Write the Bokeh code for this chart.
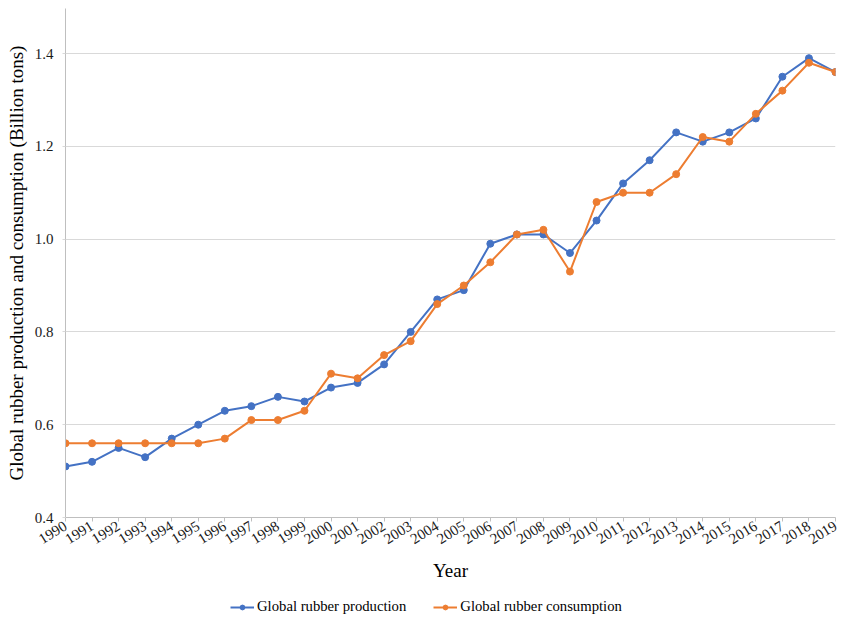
import math
from bokeh.plotting import figure
from bokeh.layouts import column
from bokeh.models import (Range1d, FixedTicker, Legend, LegendItem, ColumnDataSource)
from bokeh.embed import file_html
from bokeh.resources import INLINE

years = list(range(1990, 2020))
production = [0.51, 0.52, 0.55, 0.53, 0.57, 0.60, 0.63, 0.64, 0.66, 0.65,
              0.68, 0.69, 0.73, 0.80, 0.87, 0.89, 0.99, 1.01, 1.01, 0.97,
              1.04, 1.12, 1.17, 1.23, 1.21, 1.23, 1.26, 1.35, 1.39, 1.36]
consumption = [0.56, 0.56, 0.56, 0.56, 0.56, 0.56, 0.57, 0.61, 0.61, 0.63,
               0.71, 0.70, 0.75, 0.78, 0.86, 0.90, 0.95, 1.01, 1.02, 0.93,
               1.08, 1.10, 1.10, 1.14, 1.22, 1.21, 1.27, 1.32, 1.38, 1.36]
y_ticks = [0.4, 0.6, 0.8, 1.0, 1.2, 1.4]
y_tick_labels = ["0.4", "0.6", "0.8", "1.0", "1.2", "1.4"]
series_names = ["Global rubber production", "Global rubber consumption"]
x_title = "Year"
y_title = "Global rubber production and consumption (Billion tons)"

BLUE = "#4472C4"
ORANGE = "#ED7D31"
FONT = "Liberation Serif"
TXT = "#1a1a1a"

main = figure(width=850, height=590, output_backend="svg", toolbar_location=None,
              x_range=Range1d(1990, 2019), y_range=Range1d(0.4, 1.497),
              min_border_left=65, min_border_right=15, min_border_top=8,
              min_border_bottom=73)
main.outline_line_color = None
main.background_fill_color = "white"

src = ColumnDataSource(dict(x=years, prod=production, cons=consumption))
main.line("x", "prod", source=src, line_color=BLUE, line_width=2)
main.scatter("x", "prod", source=src, size=7, fill_color=BLUE, line_color=BLUE)
main.line("x", "cons", source=src, line_color=ORANGE, line_width=2)
main.scatter("x", "cons", source=src, size=7, fill_color=ORANGE, line_color=ORANGE)

# grids
main.xgrid.grid_line_color = None
main.ygrid.ticker = FixedTicker(ticks=y_ticks)
main.ygrid.grid_line_color = "#d9d9d9"
main.ygrid.grid_line_width = 1

# y axis
main.yaxis.ticker = FixedTicker(ticks=y_ticks)
main.yaxis.major_label_overrides = {t: s for t, s in zip(y_ticks, y_tick_labels)}
main.yaxis.axis_line_color = "#bfbfbf"
main.yaxis.major_tick_line_color = "#d9d9d9"
main.yaxis.major_tick_out = 3
main.yaxis.major_tick_in = 0
main.yaxis.minor_tick_line_color = None
main.yaxis.major_label_standoff = 9
main.yaxis.major_label_text_font = FONT
main.yaxis.major_label_text_font_size = "15px"
main.yaxis.major_label_text_color = TXT
main.yaxis.axis_label = y_title
main.yaxis.axis_label_text_font = FONT
main.yaxis.axis_label_text_font_size = "19px"
main.yaxis.axis_label_text_font_style = "normal"
main.yaxis.axis_label_text_color = "#000000"
main.yaxis.axis_label_standoff = 5

# x axis
main.xaxis.ticker = FixedTicker(ticks=years)
main.xaxis.major_label_overrides = {y: str(y) for y in years}
main.xaxis.axis_line_color = "#bfbfbf"
main.xaxis.major_tick_line_color = "#bfbfbf"
main.xaxis.major_tick_out = 4
main.xaxis.major_tick_in = 0
main.xaxis.minor_tick_line_color = None
main.xaxis.major_label_orientation = 0.55
main.xaxis.major_label_standoff = 3
main.xaxis.major_label_text_font = FONT
main.xaxis.major_label_text_font_size = "15px"
main.xaxis.major_label_text_color = TXT
main.xaxis.axis_label = x_title
main.xaxis.axis_label_text_font = FONT
main.xaxis.axis_label_text_font_size = "19px"
main.xaxis.axis_label_text_font_style = "normal"
main.xaxis.axis_label_text_color = "#000000"
main.xaxis.axis_label_standoff = 8

# legend strip: renderers share the data but their ranges keep them out of view
leg = figure(width=850, height=28, output_backend="svg", toolbar_location=None,
             x_range=Range1d(0, 1), y_range=Range1d(0, 1),
             min_border=0, min_border_left=0, min_border_right=0,
             min_border_top=0, min_border_bottom=0)
leg.axis.visible = False
leg.grid.visible = False
leg.outline_line_color = None
r1 = leg.line("x", "prod", source=src, line_color=BLUE, line_width=2)
s1 = leg.scatter("x", "prod", source=src, size=6, fill_color=BLUE, line_color=BLUE)
r2 = leg.line("x", "cons", source=src, line_color=ORANGE, line_width=2)
s2 = leg.scatter("x", "cons", source=src, size=6, fill_color=ORANGE, line_color=ORANGE)

legend = Legend(items=[LegendItem(label=series_names[0], renderers=[r1, s1]),
                       LegendItem(label=series_names[1], renderers=[r2, s2])],
                orientation="horizontal", location=(165, 3))
legend.border_line_color = None
legend.background_fill_alpha = 0
legend.label_text_font = FONT
legend.label_text_font_size = "14.7px"
legend.label_text_color = "#000000"
legend.glyph_width = 24
legend.glyph_height = 12
legend.label_standoff = 3
legend.spacing = 27
legend.padding = 2
legend.margin = 0
leg.add_layout(legend, "center")

p = column(main, leg, spacing=0)
open("out.html", "w").write(file_html(p, INLINE))
